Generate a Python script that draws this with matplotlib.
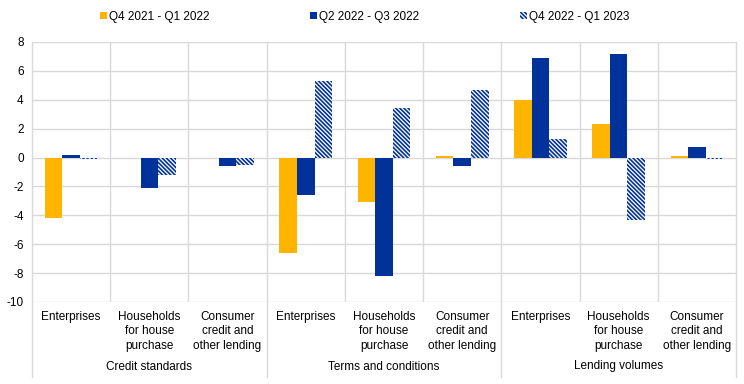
import numpy as np
import matplotlib
matplotlib.use("Agg")
import matplotlib.pyplot as plt
import matplotlib.transforms as mtransforms

plt.rcParams['font.family'] = ['Liberation Sans', 'DejaVu Sans']
plt.rcParams['axes.unicode_minus'] = False
plt.rcParams['hatch.linewidth'] = 1.2

# data
groups = ["Credit standards", "Terms and conditions", "Lending volumes"]
categories = ["Enterprises", "Households\nfor house\npurchase", "Consumer\ncredit and\nother lending"] * 3
series_names = ["Q4 2021 - Q1 2022", "Q2 2022 - Q3 2022", "Q4 2022 - Q1 2023"]
q4_21 = [-4.2, 0.0, 0.0, -6.6, -3.1, 0.1, 4.0, 2.3, 0.1]
q2_22 = [0.2, -2.1, -0.6, -2.6, -8.2, -0.6, 6.9, 7.2, 0.7]
q4_22 = [-0.1, -1.2, -0.5, 5.3, 3.4, 4.7, 1.3, -4.3, -0.1]

yellow = "#FFB400"
blue = "#003299"
grid = "#D9D9D9"

fig = plt.figure(figsize=(7.44, 3.84), dpi=100)
ax = fig.add_axes([32 / 744, (384 - 302) / 384, (736 - 32) / 744, 260 / 384])

x = np.arange(len(categories)) + 0.5
w = 0.224
ax.bar(x - w, q4_21, w, color=yellow, label=series_names[0], zorder=3)
ax.bar(x, q2_22, w, color=blue, label=series_names[1], zorder=3)
ax.bar(x + w, q4_22, w, color="white", edgecolor=blue, linewidth=0,
       hatch="\\" * 8, label=series_names[2], zorder=3)

ax.set_xlim(0, len(categories))
ax.set_ylim(-10, 8)
ax.set_yticks(np.arange(-10, 9, 2))
ax.set_xticks([])
ax.tick_params(axis='y', length=0, labelsize=8.5, pad=6)
for s in ax.spines.values():
    s.set_visible(False)
for yv in np.arange(-10, 9, 2):
    ax.axhline(yv, color=grid, lw=1, zorder=1)

# vertical separators; group borders run down through the label area
for i in range(len(categories) + 1):
    if i % 3 == 0:
        ax.axvline(i, ymin=-0.29, ymax=1, color=grid, lw=1, clip_on=False, zorder=1)
    else:
        ax.axvline(i, color=grid, lw=1, zorder=1)

trans = mtransforms.blended_transform_factory(ax.transData, ax.transAxes)
for xi, lab in zip(x, categories):
    ax.text(xi, -0.035, lab, transform=trans, ha='center', va='top',
            fontsize=8.5, linespacing=1.25)
for gi, g in enumerate(groups):
    ax.text(gi * 3 + 1.5, -0.225, g, transform=trans, ha='center', va='top', fontsize=8.5)

fig.legend(loc='upper center', bbox_to_anchor=(0.49, 1.0), ncol=3, frameon=False,
           fontsize=8.5, handlelength=0.6, handleheight=0.6, handletextpad=0.2,
           columnspacing=8.5)

fig.savefig("out.png", dpi=100)
